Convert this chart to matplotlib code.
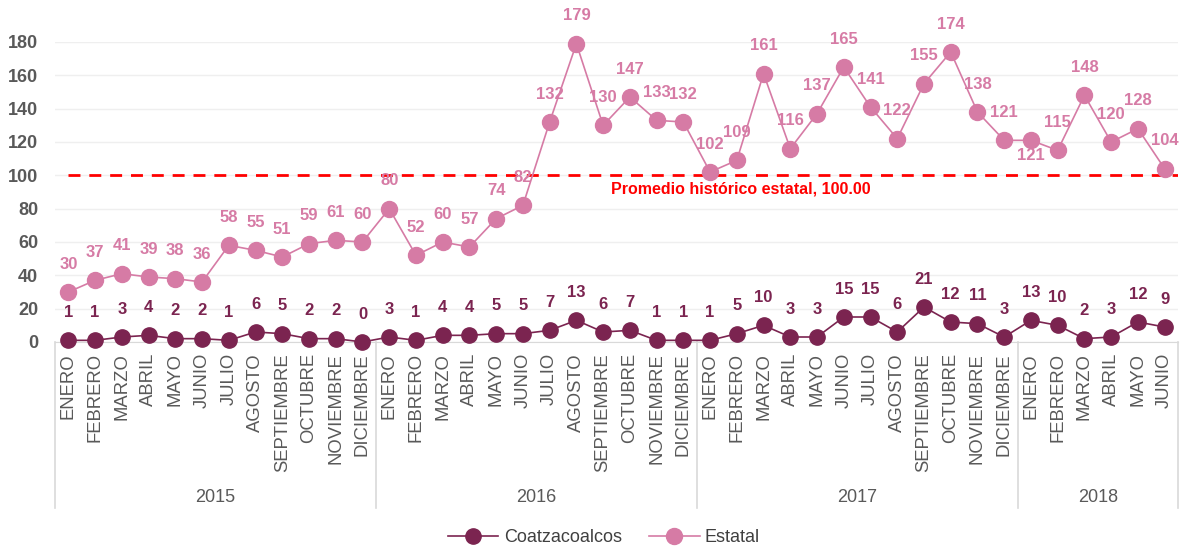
import numpy as np
import matplotlib.pyplot as plt
from matplotlib.transforms import blended_transform_factory

''' Coatzacoalcos vs Estatal monthly series, 2015-2018 '''

plt.rcParams['font.family'] = ['Liberation Sans', 'DejaVu Sans']

years = ['2015', '2016', '2017', '2018']
months_full = ['ENERO', 'FEBRERO', 'MARZO', 'ABRIL', 'MAYO', 'JUNIO', 'JULIO',
               'AGOSTO', 'SEPTIEMBRE', 'OCTUBRE', 'NOVIEMBRE', 'DICIEMBRE']
months_per_year = [12, 12, 12, 6]

estatal = [30, 37, 41, 39, 38, 36, 58, 55, 51, 59, 61, 60,
           80, 52, 60, 57, 74, 82, 132, 179, 130, 147, 133, 132,
           102, 109, 161, 116, 137, 165, 141, 122, 155, 174, 138, 121,
           121, 115, 148, 120, 128, 104]
coatza = [1, 1, 3, 4, 2, 2, 1, 6, 5, 2, 2, 0,
          3, 1, 4, 4, 5, 5, 7, 13, 6, 7, 1, 1,
          1, 5, 10, 3, 3, 15, 15, 6, 21, 12, 11, 3,
          13, 10, 2, 3, 12, 9]
promedio = 100.00

c_coatza = '#7B2450'
c_estatal = '#D67BA5'
c_grey = '#595959'

month_labels = []
for n in months_per_year:
    month_labels += months_full[:n]
x = np.arange(len(month_labels))

fig = plt.figure(figsize=(11.89, 5.48), dpi=100)
ax = fig.add_axes([55 / 1189, 206 / 548, 1123 / 1189, 300 / 548])

ax.plot(x, coatza, color=c_coatza, marker='o', markersize=11, linewidth=1.2,
        label='Coatzacoalcos', clip_on=False, zorder=3)
ax.plot(x, estatal, color=c_estatal, marker='o', markersize=11.5, linewidth=1.2,
        label='Estatal', clip_on=False, zorder=3)

ax.plot([0, len(x) - 0.5], [promedio, promedio], color='#FF0000', linestyle='--',
        linewidth=2, dashes=(4.3, 3.2), zorder=2)
ax.text(25.15, promedio - 8, 'Promedio histórico estatal, %.2f' % promedio,
        color='#FF0000', fontsize=11.5, fontweight='bold', ha='center', va='center')

for i, v in enumerate(estatal):
    dy = 20
    if i == 36:
        dy = -11
    ax.annotate(str(v), (i, v), xytext=(0, dy), textcoords='offset points',
                ha='center', va='center', color=c_estatal, fontsize=12,
                fontweight='bold', annotation_clip=False)
for i, v in enumerate(coatza):
    ax.annotate(str(v), (i, v), xytext=(0, 20), textcoords='offset points',
                ha='center', va='center', color=c_coatza, fontsize=12,
                fontweight='bold', annotation_clip=False)

ax.set_xlim(-0.5, len(x) - 0.5)
ax.set_ylim(0, 180)
ax.set_yticks(np.arange(0, 181, 20))
ax.tick_params(axis='y', length=0, pad=12, labelsize=13, labelcolor=c_grey)
for lbl in ax.get_yticklabels():
    lbl.set_fontweight('bold')
ax.set_xticks(x)
ax.set_xticklabels(month_labels, rotation=90, fontsize=13.3, color=c_grey)
ax.tick_params(axis='x', length=0, pad=8)

ax.grid(axis='y', color='#EFEFEF', linewidth=1)
ax.set_axisbelow(True)
for s in ['top', 'right', 'left']:
    ax.spines[s].set_visible(False)
ax.spines['bottom'].set_color('#D9D9D9')

# year separators and labels under the month labels
trans = blended_transform_factory(ax.transData, ax.transAxes)
bounds = [-0.5]
for n in months_per_year:
    bounds.append(bounds[-1] + n)
for b in bounds:
    ax.plot([b, b], [0, -0.553], transform=trans, color='#D9D9D9',
            linewidth=1.2, clip_on=False)
for yr, a, b in zip(years, bounds[:-1], bounds[1:]):
    ax.text((a + b) / 2, -0.517, yr, transform=trans, ha='center', va='center',
            fontsize=13, color=c_grey)

fig.legend(loc='center', bbox_to_anchor=(604 / 1189, 1 - 538 / 548), ncol=2,
           frameon=False, fontsize=13, handlelength=2.8, handletextpad=0.3,
           columnspacing=1.5, labelcolor='#404040')

fig.savefig('out.png', dpi=100)
